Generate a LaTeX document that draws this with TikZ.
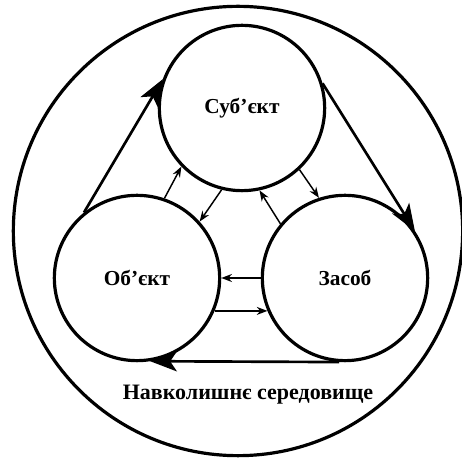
\documentclass[tikz,border=0pt]{standalone}
\usepackage{fontspec}
\setmainfont{Liberation Serif}
\usetikzlibrary{arrows.meta}

\tikzset{
  part/.style={circle,draw,line width=2.4pt,minimum size=124pt,inner sep=0pt,
    font=\fontsize{16}{19}\selectfont\bfseries},
  bigarr/.style={line width=2pt,-{Stealth[length=20pt,width=15pt,inset=5pt]}},
  smallarr/.style={line width=1.1pt,-{Stealth[length=8pt,width=6pt]}}
}

\begin{document}
\begin{tikzpicture}[x=0.75pt,y=-0.75pt]
\useasboundingbox (0,0) rectangle (462,459);
\node[circle,draw,line width=2.4pt,minimum size=337pt] (env) at (238,231) {};
\node[font=\fontsize{16.5}{19}\selectfont\bfseries] (envlabel) at (248,395) {Навколишнє середовище};

\node[part] (sub) at (242,108) {Суб’єкт};
\node[part] (obj) at (137,278) {Об’єкт};
\node[part] (zas) at (345,278) {Засоб};

\draw[bigarr] (obj.129) -- (sub.160);
\draw[bigarr] (sub.17) -- (zas.34);
\draw[bigarr] (zas.266) -- (obj.279);

\draw[smallarr] (obj.71) -- (sub.224);
\draw[smallarr] (sub.256) -- (obj.42);
\draw[smallarr] (sub.313) -- (zas.108);
\draw[smallarr] (zas.140) -- (sub.282);
\draw[smallarr] (zas.180) -- (obj.0);
\draw[smallarr] (obj.337) -- (zas.203);
\end{tikzpicture}
\end{document}
